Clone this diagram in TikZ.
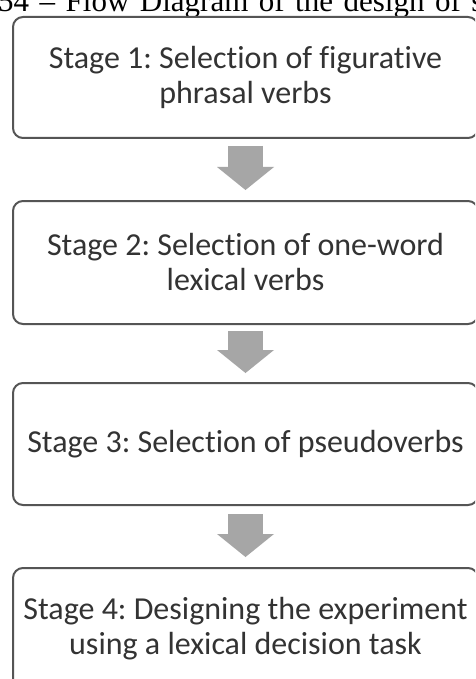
\documentclass[tikz,border=0pt]{standalone}
\usepackage{fontspec}
\setmainfont{Liberation Serif}
\newfontfamily\boxfont[Ligatures=NoCommon]{Carlito}
\usetikzlibrary{arrows.meta}
\definecolor{boxline}{HTML}{555555}
\definecolor{flowgray}{HTML}{A6A6A6}
\definecolor{ink}{HTML}{333333}
\newcommand{\widespaces}{\spaceskip 10.5pt\relax}
\frenchspacing
\begin{document}
\begin{tikzpicture}[x=1pt,y=1pt,
  stage/.style={draw=boxline, line width=2pt, rounded corners=10pt, fill=white,
    minimum width=465pt, anchor=north, align=center, inner sep=0pt,
    font=\boxfont\fontsize{32}{35}\selectfont, text=ink},
  flow/.style={draw=flowgray, line width=35pt,
    -{Triangle[width=57pt, length=23pt, line width=0pt, fill=flowgray]}},
  caption/.style={anchor=base west, inner sep=0pt,
    font=\fontsize{31}{33}\selectfont}]
\clip (0,0) rectangle (475,-679);
\fill[white] (0,0) rectangle (475,-679);

% caption line above the chart
\node[caption] (title) at (-2,-12) {\widespaces 54 – Flow Diagram of the design of s};

% the four stages
\node[stage, minimum height=121pt] (s1) at (245.5,-16)
  {Stage 1: Selection of figurative\\phrasal verbs};
\node[stage, minimum height=123pt] (s2) at (245.5,-200)
  {Stage 2: Selection of one-word\\lexical verbs};
\node[stage, minimum height=122pt] (s3) at (245.5,-382)
  {Stage 3: Selection of pseudoverbs};
\node[stage, minimum height=121pt] (s4) at (245.5,-567)
  {Stage 4: Designing the experiment\\using a lexical decision task};

% block arrows between stages
\draw[flow] ([yshift=-7pt]s1.south) -- ([yshift=10pt]s2.north);
\draw[flow] ([yshift=-6pt]s2.south) -- ([yshift=9pt]s3.north);
\draw[flow] ([yshift=-8pt]s3.south) -- ([yshift=10pt]s4.north);
\end{tikzpicture}
\end{document}
